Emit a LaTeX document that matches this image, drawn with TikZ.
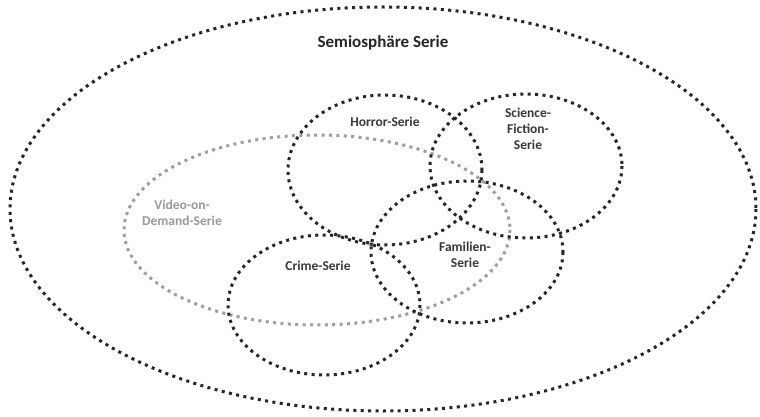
\documentclass[tikz,border=0pt]{standalone}
\usepackage{fontspec}
\setmainfont{Carlito}
\begin{document}
\begin{tikzpicture}[x=1pt,y=-1pt,
  dotline/.style={line width=3pt,dash pattern=on 3pt off 4.4pt},
  blackset/.style={dotline,draw=black!85},
  grayset/.style={dotline,draw=black!38},
  setlabel/.style={font=\bfseries\fontsize{13.5}{16}\selectfont,text=black!78,align=center},
  graylabel/.style={setlabel,text=black!40},
  titlelabel/.style={font=\bfseries\fontsize{17}{20}\selectfont,text=black!85}]
\useasboundingbox (0,0) rectangle (760,417);
\fill[white] (0,0) rectangle (760,417);
% overall semiosphere
\draw[blackset] (383,209) ellipse [x radius=373, y radius=202];
% video-on-demand region
\draw[grayset] (317,230) ellipse [x radius=193, y radius=95];
% genre sets
\draw[blackset] (385,170) ellipse [x radius=97, y radius=75];
\draw[blackset] (526,166) ellipse [x radius=96, y radius=72];
\draw[blackset] (467,252) ellipse [x radius=96, y radius=71];
\draw[blackset] (324,305) ellipse [x radius=96, y radius=70];
% labels
\node[titlelabel] (semio) at (383,43) {Semiosphäre Serie};
\node[graylabel] (vod) at (182,213) {Video-on-\\Demand-Serie};
\node[setlabel] (horror) at (385,122) {Horror-Serie};
\node[setlabel] (scifi) at (528,129) {Science-\\Fiction-\\Serie};
\node[setlabel] (familie) at (465,255) {Familien-\\Serie};
\node[setlabel] (crime) at (318,266) {Crime-Serie};
\end{tikzpicture}
\end{document}
